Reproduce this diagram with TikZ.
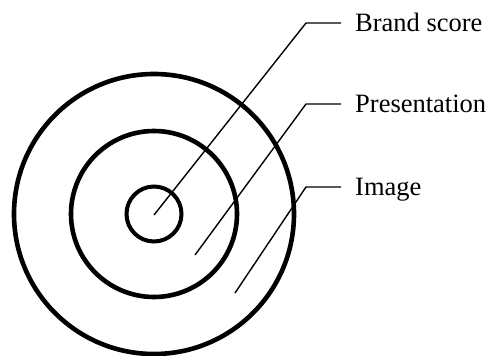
\documentclass[tikz,border=0pt]{standalone}
\usepackage{fontspec}
\setmainfont{Liberation Serif}
\begin{document}
\begin{tikzpicture}[x=1pt,y=-1pt,
  ring/.style={line width=4.6pt},
  leader/.style={line width=1.4pt},
  lbl/.style={anchor=west,inner xsep=14pt,inner ysep=0pt,text height=17.5pt,text depth=0pt,font=\fontsize{26.5}{30}\selectfont}]
  \useasboundingbox (0,0) rectangle (488,356);
  \draw[ring] (154,214) circle (140);
  \draw[ring] (154,214) circle (83);
  \draw[ring,line width=4pt] (154,214) circle (27.5);
  \coordinate (brandtip) at (154,215);
  \coordinate (presenttip) at (195,255);
  \coordinate (imagetip) at (235,293);
  \coordinate (brandbend) at (306,23);
  \coordinate (presentbend) at (306,104);
  \coordinate (imagebend) at (306,187);
  \node[lbl] (brand) at (341,23) {Brand score};
  \node[lbl] (present) at (341,104) {Presentation};
  \node[lbl] (image) at (341,187) {Image};
  \draw[leader] (brandtip) -- (brandbend) -- (brand.west);
  \draw[leader] (presenttip) -- (presentbend) -- (present.west);
  \draw[leader] (imagetip) -- (imagebend) -- (image.west);
\end{tikzpicture}
\end{document}
